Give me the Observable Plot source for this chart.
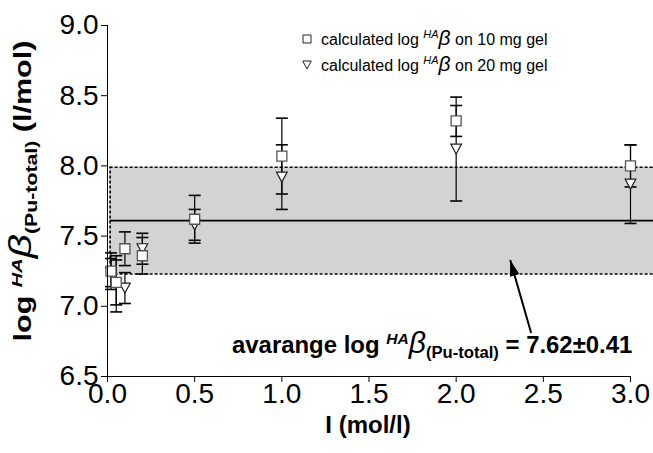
<!DOCTYPE html>
<html><head><meta charset="utf-8">
<script src="https://cdn.jsdelivr.net/npm/d3@7"></script>
<script src="https://cdn.jsdelivr.net/npm/@observablehq/plot@0.6"></script>
<style>
body{margin:0;background:#fff;overflow:hidden}
svg{font-family:"Liberation Sans",Arial,sans-serif}
</style>
</head><body><div id="chart"></div>
<script>
// Data
const ionicStrength = [0.02, 0.05, 0.1, 0.2, 0.5, 1.0, 2.0, 3.0];
const logBeta10 = [7.25, 7.17, 7.41, 7.36, 7.62, 8.07, 8.32, 8.00];
const err10     = [0.13, 0.16, 0.12, 0.13, 0.17, 0.27, 0.11, 0.15];
const logBeta20 = [7.24, 7.16, 7.13, 7.41, 7.58, 7.92, 8.12, 7.87];
const err20     = [0.10, 0.20, 0.11, 0.11, 0.11, 0.23, 0.37, 0.28];
const xTicks = [0, 0.5, 1.0, 1.5, 2.0, 2.5, 3.0];
const yTicks = [6.5, 7.0, 7.5, 8.0, 8.5, 9.0];
const avgValue = 7.61;
const avgLow = 7.23, avgHigh = 7.99;
const bandStart = 0.015, bandEnd = 3.14;
const arrowTail = {x: 2.43, y: 6.81};
const arrowHead = {x: 2.31, y: 7.33};

const W = 653, H = 453, ML = 107, MR = 23, MT = 25, MB = 77;
const xDomain = [0, 3], yDomain = [6.5, 9];

const rows10 = ionicStrength.map((x, i) => ({x, y: logBeta10[i], e: err10[i]}));
const rows20 = ionicStrength.map((x, i) => ({x, y: logBeta20[i], e: err20[i]}));
const caps = rows => rows.flatMap(d => [{x: d.x, y: d.y + d.e}, {x: d.x, y: d.y - d.e}]);
const band = [{x1: bandStart, x2: bandEnd, y1: avgLow, y2: avgHigh}];

const square = {draw(ctx, size){const r = Math.sqrt(size/Math.PI); ctx.rect(-r, -r, 2*r, 2*r);}};
const triDown = {draw(ctx, size){const r = Math.sqrt(size/Math.PI); ctx.moveTo(-r*1.07, -r); ctx.lineTo(r*1.07, -r); ctx.lineTo(0, r); ctx.closePath();}};
const capSym = {draw(ctx, size){const r = Math.sqrt(size/Math.PI); ctx.moveTo(-r, 0); ctx.lineTo(r, 0);}};
const headSym = {draw(ctx, size){const r = Math.sqrt(size/Math.PI); ctx.moveTo(0, 0); ctx.lineTo(r*0.6, r*2); ctx.lineTo(-r*0.6, r*2); ctx.closePath();}};

// arrow direction in pixels for rotating the filled head
const pxPerX = (W - ML - MR) / (xDomain[1] - xDomain[0]);
const pxPerY = (H - MT - MB) / (yDomain[1] - yDomain[0]);
const adx = (arrowHead.x - arrowTail.x) * pxPerX;
const ady = -(arrowHead.y - arrowTail.y) * pxPerY;
const headAngle = Math.atan2(adx, -ady) * 180 / Math.PI;

const dash = "3,2";
const plot = Plot.plot({
  width: W, height: H,
  marginLeft: ML, marginRight: MR, marginTop: MT, marginBottom: MB,
  x: {domain: xDomain},
  y: {domain: yDomain},
  style: {fontFamily: '"Liberation Sans", Arial, sans-serif', background: "#fff"},
  marks: [
    Plot.rect(band, {x1: "x1", x2: "x2", y1: "y1", y2: "y2", fill: "#d3d3d3"}),
    Plot.ruleY([avgValue], {x1: bandStart, x2: bandEnd, stroke: "#000", strokeWidth: 1.6}),
    Plot.ruleY([avgLow, avgHigh], {x1: bandStart, x2: bandEnd, stroke: "#000", strokeWidth: 1.6, strokeDasharray: dash}),
    Plot.ruleX([bandStart], {y1: avgLow, y2: avgHigh, stroke: "#000", strokeWidth: 1.6, strokeDasharray: dash}),
    // error bars
    Plot.ruleX(rows20, {x: "x", y1: d => d.y - d.e, y2: d => d.y + d.e, stroke: "#000", strokeWidth: 1.2}),
    Plot.ruleX(rows10, {x: "x", y1: d => d.y - d.e, y2: d => d.y + d.e, stroke: "#000", strokeWidth: 1.2}),
    Plot.dot(caps(rows20), {x: "x", y: "y", symbol: capSym, r: 6, fill: "none", stroke: "#000", strokeWidth: 1.6}),
    Plot.dot(caps(rows10), {x: "x", y: "y", symbol: capSym, r: 6, fill: "none", stroke: "#000", strokeWidth: 1.6}),
    // markers
    Plot.dot(rows20, {x: "x", y: "y", symbol: triDown, r: 5, fill: "#fff", stroke: "#222", strokeWidth: 1.2}),
    Plot.dot(rows10, {x: "x", y: "y", symbol: square, r: 5, fill: "#fff", stroke: "#555", strokeWidth: 1.3}),
    // axes
    Plot.ruleY([6.5], {x1: 0, x2: 3, stroke: "#000", strokeWidth: 1}),
    Plot.ruleX([0], {y1: 6.5, y2: 9, stroke: "#000", strokeWidth: 1}),
    Plot.axisX(xTicks, {tickFormat: d3.format(".1f"), tickSize: 6, tickPadding: 1, fontSize: 28, label: null}),
    Plot.axisY(yTicks, {tickFormat: d3.format(".1f"), tickSize: 6, tickPadding: 3, fontSize: 28, label: null}),
    // annotation arrow (line + filled head)
    Plot.link([{x1: arrowTail.x, y1: arrowTail.y, x2: arrowHead.x, y2: arrowHead.y}],
      {x1: "x1", y1: "y1", x2: "x2", y2: "y2", stroke: "#000", strokeWidth: 2}),
    Plot.dot([arrowHead], {x: "x", y: "y", symbol: headSym, r: 8, fill: "#000", stroke: "none", rotate: headAngle})
  ]
});
document.getElementById("chart").append(plot);

const svg = d3.select(plot);
const font = '"Liberation Sans", Arial, sans-serif';

// x axis title
svg.append("text").attr("x", 368).attr("y", 433).attr("text-anchor", "middle")
  .attr("font-family", font).attr("font-weight", "bold").attr("font-size", 24).attr("fill", "#000")
  .text("I (mol/l)");

// y axis title (rotated, rich text, stretched along its length like the reference)
const yt = svg.append("text").attr("transform", "translate(31,191) rotate(-90) scale(1.33,1)")
  .attr("text-anchor", "middle").attr("font-family", font).attr("font-weight", "bold")
  .attr("font-size", 23).attr("fill", "#000");
yt.append("tspan").text("log ");
yt.append("tspan").attr("font-style", "italic").attr("font-size", 15).attr("dy", -9).text("HA");
yt.append("tspan").attr("font-style", "italic").attr("font-weight", "normal").attr("font-size", 32).attr("dy", 9).text("β");
yt.append("tspan").attr("font-size", 16).attr("dy", 6).text("(Pu-total)");
yt.append("tspan").attr("dy", -6).text(" (l/mol)");

// legend
const legendRows = [
  {sym: square, label: "10 mg gel", y: 39},
  {sym: triDown, label: "20 mg gel", y: 65}
];
legendRows.forEach(r => {
  const p = d3.path(); r.sym.draw(p, Math.PI * 16);
  svg.append("path").attr("d", p.toString()).attr("transform", `translate(307,${r.y})`)
    .attr("fill", "#fff").attr("stroke", "#222").attr("stroke-width", 1);
  const t = svg.append("text").attr("x", 321).attr("y", r.y + 6).attr("text-anchor", "start")
    .attr("font-family", font).attr("font-size", 16).attr("fill", "#000");
  t.append("tspan").text("calculated log ");
  t.append("tspan").attr("font-style", "italic").attr("font-size", 11).attr("dy", -7).text("HA");
  t.append("tspan").attr("font-style", "italic").attr("font-size", 21).attr("dy", 7).text("β");
  t.append("tspan").text(" on " + r.label);
});

// average annotation
const at = svg.append("text").attr("transform", "translate(232,353) scale(1.04,1)")
  .attr("text-anchor", "start").attr("font-family", font)
  .attr("font-weight", "bold").attr("font-size", 23).attr("fill", "#000");
at.append("tspan").text("avarange log ");
at.append("tspan").attr("font-style", "italic").attr("font-size", 15).attr("dy", -9).text("HA");
at.append("tspan").attr("font-style", "italic").attr("font-weight", "normal").attr("font-size", 29).attr("dy", 9).text("β");
at.append("tspan").attr("font-size", 16).attr("dy", 5).text("(Pu-total)");
at.append("tspan").attr("dy", -5).text(" = 7.62±0.41");
</script>
</body></html>
